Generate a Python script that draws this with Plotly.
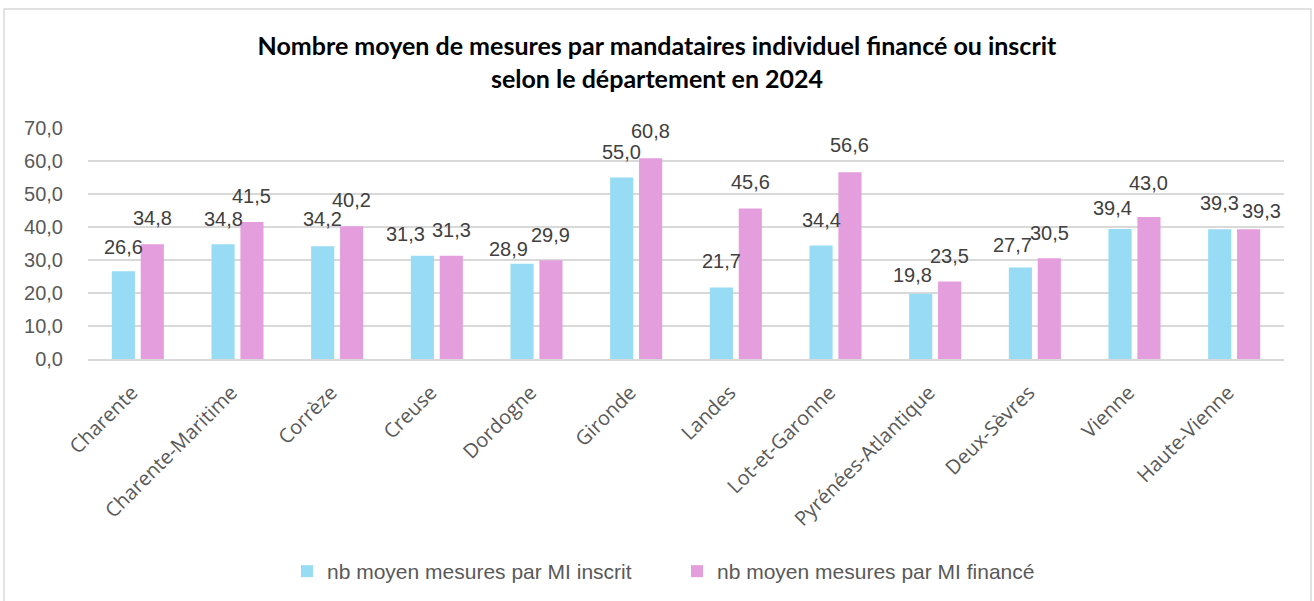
import plotly.graph_objects as go

categories = ["Charente", "Charente-Maritime", "Corrèze", "Creuse", "Dordogne", "Gironde",
              "Landes", "Lot-et-Garonne", "Pyrénées-Atlantique", "Deux-Sèvres", "Vienne", "Haute-Vienne"]
inscrit = [26.6, 34.8, 34.2, 31.3, 28.9, 55.0, 21.7, 34.4, 19.8, 27.7, 39.4, 39.3]
finance = [34.8, 41.5, 40.2, 31.3, 29.9, 60.8, 45.6, 56.6, 23.5, 30.5, 43.0, 39.3]
series_names = ["nb moyen mesures par MI inscrit", "nb moyen mesures par MI financé"]
colors = ["#97DBF5", "#E59EDD"]
yticks = [0, 10, 20, 30, 40, 50, 60, 70]

# label placement offsets in pixels (styling only), per category
lab_dx = [[0, 0, 0, -17, -14, 0, 0, 0, -8, -8, -8, 0],
          [0, 0, 0, 0, 0, 0, 0, 0, 0, 0, 0, 13]]
lab_dy = [[24, 25, 27, 22, 15, 26, 26, 25, 19, 23, 21, 26],
          [26, 26, 26, 26, 25, 27, 27, 27, 25, 25, 34, 18]]

W, H = 1314, 601
ml, mr, mt, mb = 88, 30, 128, 242
ph = H - mt - mb
pw = W - ml - mr

def fr(v):
    return f"{v:.1f}".replace(".", ",")

fig = go.Figure()
for name, vals, col in zip(series_names, [inscrit, finance], colors):
    fig.add_trace(go.Bar(x=categories, y=vals, name=name,
                         marker=dict(color=col, line=dict(width=0))))

fig.update_layout(
    width=W, height=H,
    margin=dict(l=ml, r=mr, t=mt, b=mb, autoexpand=False),
    paper_bgcolor="white", plot_bgcolor="white",
    barmode="group", bargap=0.42, bargroupgap=0.2,
    title=dict(text="Nombre moyen de mesures par mandataires individuel financé ou inscrit<br>selon le département en 2024",
               x=0.5, xanchor="center", y=1 - 55 / H, yanchor="middle",
               font=dict(family="Lato", size=25, color="black", weight="bold")),
    font=dict(family="Liberation Sans, Arial", color="#595959"),
    showlegend=True,
    legend=dict(orientation="h", x=(304 - 17) / W, xanchor="left", xref="container",
                yref="container", y=1 - 571.5 / H, yanchor="middle",
                font=dict(family="Liberation Sans, Arial", size=21, color="#595959"),
                itemwidth=30, traceorder="normal", entrywidth=345, entrywidthmode="pixels"),
)
fig.update_yaxes(range=[0, 70], tickvals=yticks, ticktext=[fr(v) for v in yticks],
                 showgrid=True, gridcolor="#D9D9D9", gridwidth=2, zeroline=False, automargin=False,
                 showline=False, tickfont=dict(size=20, color="#595959"), ticks="", ticklabelstandoff=24)
fig.update_xaxes(tickangle=-45, tickfont=dict(family="Open Sans", size=20, color="#595959"), showline=True,
                 linecolor="#D9D9D9", linewidth=2, ticks="", automargin=False,
                 ticklabelstandoff=12, ticklabelshift=-6)

# value labels
for si, vals in enumerate([inscrit, finance]):
    for ci, v in enumerate(vals):
        off = -0.145 if si == 0 else 0.145
        fig.add_annotation(x=ci + off, y=v, xref="x", yref="y", text=fr(v), showarrow=False,
                           xanchor="center", yanchor="middle",
                           xshift=lab_dx[si][ci], yshift=lab_dy[si][ci],
                           font=dict(size=20, color="#404040", family="Liberation Sans, Arial"))

# chart border
fig.add_shape(type="rect", xref="paper", yref="paper",
              x0=(4 - ml) / pw, x1=(1311 - ml) / pw,
              y0=-(605 - (H - mb)) / ph, y1=1 + (mt - 9) / ph,
              line=dict(color="#D9D9D9", width=1.5), layer="below")

fig.write_html("out.html", config={"displayModeBar": False},
               post_script="document.body.style.margin='0px';document.body.style.padding='0px';")
